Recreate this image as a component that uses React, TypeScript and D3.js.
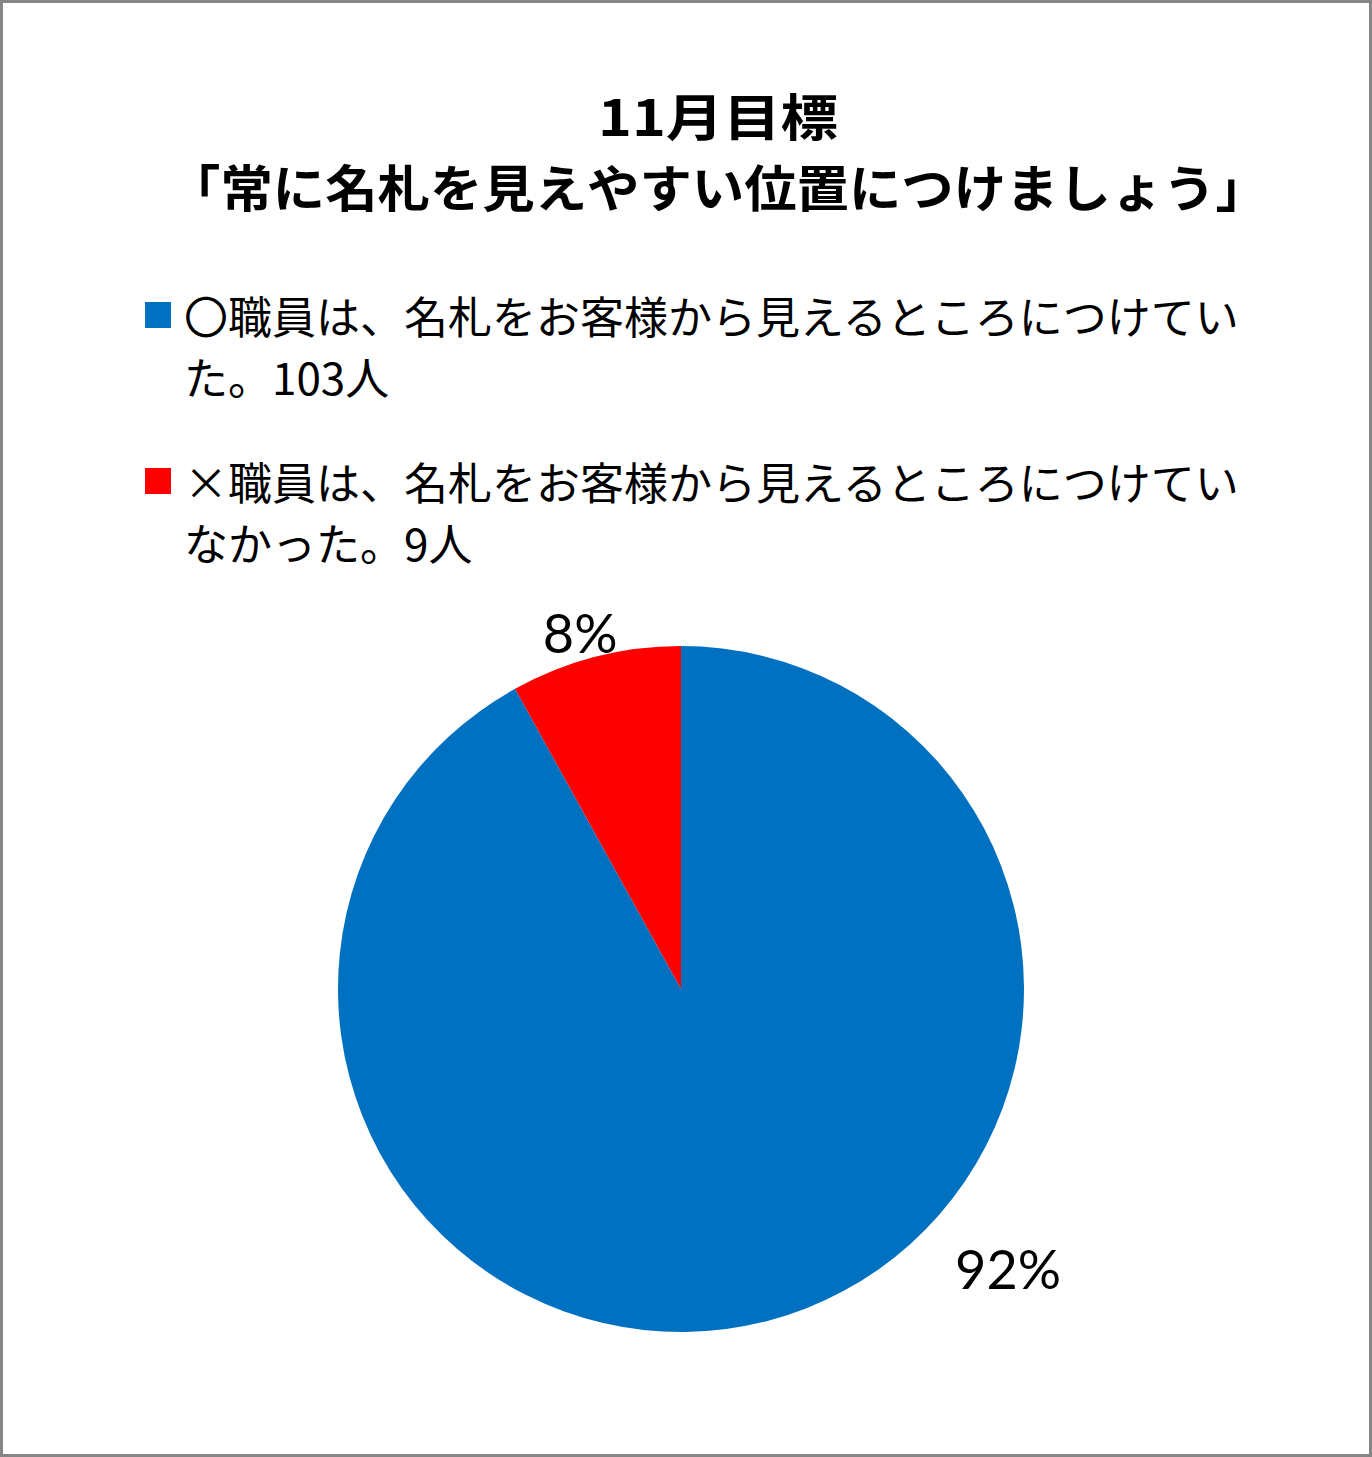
import { useEffect, useRef } from 'react';
import * as d3 from 'd3';

const titleLines = ['11月目標', '「常に名札を見えやすい位置につけましょう」'];
const categories = ['〇職員は、名札をお客様から見えるところにつけていた。103人', '×職員は、名札をお客様から見えるところにつけていなかった。9人'];
const legendLines = [
  ['〇職員は、名札をお客様から見えるところにつけてい', 'た。103人'],
  ['×職員は、名札をお客様から見えるところにつけてい', 'なかった。9人'],
];
const values = [103, 9];
const percentLabels = ['92%', '8%'];
const colors = ['#0070c0', '#ff0000'];

const W = 1372;
const H = 1457;

export default function App() {
  const ref = useRef<SVGSVGElement | null>(null);
  useEffect(() => {
    const svg = d3.select(ref.current!);
    svg.selectAll('*').remove();

    svg.append('rect').attr('x', 1.5).attr('y', 1.5).attr('width', W - 3).attr('height', H - 3)
      .attr('fill', '#fff').attr('stroke', '#868686').attr('stroke-width', 3);

    // title (bold gothic, stretched to the reference widths; brackets carry side bearing)
    const titleFont = '"Noto Sans CJK JP", sans-serif';
    const tl = [{ x: 598, y: 114, len: 240 }, { x: 168, y: 185, len: 1100 }];
    svg.selectAll('.title').data(titleLines).enter().append('text')
      .attr('x', (_, i) => tl[i].x).attr('y', (_, i) => tl[i].y)
      .attr('textLength', (_, i) => tl[i].len).attr('lengthAdjust', 'spacingAndGlyphs')
      .attr('dominant-baseline', 'central')
      .attr('font-family', titleFont).attr('font-weight', 700).attr('font-size', 50).attr('fill', '#000')
      .text((d) => d);

    // legend
    const lg = svg.append('g').attr('font-family', '"Noto Sans CJK JP", sans-serif').attr('font-size', 44).attr('fill', '#000');
    const entryY = [315, 481];
    categories.forEach((c, i) => {
      const e = lg.append('g').attr('transform', `translate(0,${entryY[i]})`);
      e.append('rect').attr('x', 145).attr('y', -13).attr('width', 26).attr('height', 26).attr('fill', colors[i]);
      e.selectAll('text').data(legendLines[i]).enter().append('text')
        .attr('x', 184).attr('y', (_, j) => j * 61)
        .attr('dominant-baseline', 'central').text((d) => d);
      e.append('title').text(c);
    });

    // pie
    const cx = 681, cy = 989, r = 343;
    const pie = d3.pie<number>().sort(null).value((d) => d);
    const arcs = pie(values);
    const arc = d3.arc<d3.PieArcDatum<number>>().innerRadius(0).outerRadius(r);
    const g = svg.append('g').attr('transform', `translate(${cx},${cy})`);
    g.selectAll('path').data(arcs).enter().append('path')
      .attr('d', arc).attr('fill', (_, i) => colors[i]);

    // data labels, Excel "best fit" placement (angle in degrees from 12 o'clock, radius factor)
    const labelPos = [{ a: 130.5, k: 1.254 }, { a: 344.2, k: 1.08 }];
    g.selectAll('.lbl').data(arcs).enter().append('text')
      .attr('x', (_, i) => Math.sin((labelPos[i].a * Math.PI) / 180) * r * labelPos[i].k)
      .attr('y', (_, i) => -Math.cos((labelPos[i].a * Math.PI) / 180) * r * labelPos[i].k)
      .attr('text-anchor', 'middle').attr('dominant-baseline', 'central')
      .attr('font-family', 'Lato, "Open Sans", sans-serif').attr('font-size', 54).attr('fill', '#000')
      .text((_, i) => percentLabels[i]);
  }, []);
  return (
    <svg ref={ref} width={W} height={H} viewBox={`0 0 ${W} ${H}`}
      style={{ position: 'absolute', left: 0, top: 0, display: 'block' }} />
  );
}
